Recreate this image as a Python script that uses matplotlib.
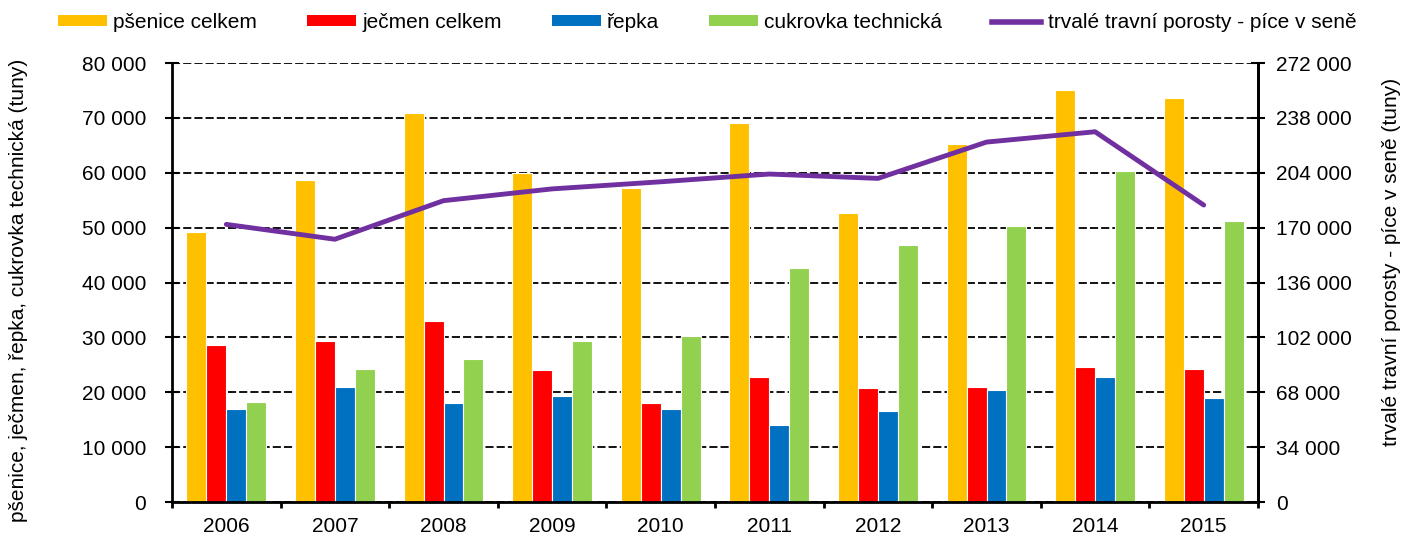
import numpy as np
import matplotlib
matplotlib.use("Agg")
import matplotlib.pyplot as plt
from matplotlib.ticker import FuncFormatter, FixedLocator
from matplotlib.patches import Patch
from matplotlib.lines import Line2D

plt.rcParams['font.family'] = ['Liberation Sans', 'DejaVu Sans']

years = ['2006', '2007', '2008', '2009', '2010', '2011', '2012', '2013', '2014', '2015']
psenice = [49200, 58700, 70900, 59900, 57300, 69000, 52600, 65300, 75100, 73600]
jecmen = [28600, 29300, 33000, 24000, 18000, 22700, 20700, 20900, 24600, 24300]
repka = [16900, 20900, 18000, 19400, 16900, 14100, 16600, 20500, 22700, 18900]
cukrovka = [18300, 24200, 26100, 29400, 30200, 42600, 46800, 50300, 60300, 51200]
ttp = [172000, 162800, 186700, 194000, 198400, 203200, 200500, 223000, 229400, 184000]

bar_series = [
    ('pšenice celkem', psenice, '#FFC000'),
    ('ječmen celkem', jecmen, '#FF0000'),
    ('řepka', repka, '#0070C0'),
    ('cukrovka technická', cukrovka, '#92D050'),
]
line_label = 'trvalé travní porosty - píce v seně'
line_color = '#7030A0'
fs = 15

fmt = FuncFormatter(lambda v, p: f"{v:,.0f}".replace(",", " "))

fig = plt.figure(figsize=(14.14, 5.35), dpi=100)
ax = fig.add_axes([172 / 1414, 33 / 535, (1258 - 172) / 1414, (502 - 63) / 535])

x = np.arange(len(years))
w = 0.184
for k, (name, vals, col) in enumerate(bar_series):
    ax.bar(x + (k - 1.5) * w, vals, width=w, color=col, edgecolor='white',
           linewidth=0.8, zorder=2)

ax.set_xlim(-0.5, len(years) - 0.5)
ax.set_ylim(0, 80000)
ax.set_yticks(np.arange(0, 80001, 10000))
ax.yaxis.set_major_formatter(fmt)
ax.set_xticks(x)
ax.set_xticklabels(years)
ax.xaxis.set_minor_locator(FixedLocator(np.arange(-0.5, len(years), 1.0)))
ax.tick_params(axis='x', which='major', length=0, pad=11, labelsize=fs)
ax.tick_params(axis='x', which='minor', length=4.5, width=2, direction='out')
ax.tick_params(axis='y', length=10, width=1.5, direction='inout', labelsize=fs, pad=13.5)
ax.set_axisbelow(True)
ax.yaxis.grid(True, color='black', linewidth=1.3, linestyle=(0, (4.5, 1.7)))
ax.spines['top'].set_visible(False)
for s in ['left', 'bottom', 'right']:
    ax.spines[s].set_linewidth(2)
ax.set_ylabel('pšenice, ječmen, řepka, cukrovka technická (tuny)', fontsize=fs)
ax.yaxis.set_label_coords(-0.133, 0.483)

ax2 = ax.twinx()
ax2.plot(x, ttp, color=line_color, linewidth=3.5, solid_capstyle='round', zorder=3)
ax2.set_ylim(0, 272000)
ax2.set_yticks(np.arange(0, 272001, 34000))
ax2.yaxis.set_major_formatter(fmt)
ax2.tick_params(axis='y', length=10, width=1.5, direction='inout', labelsize=fs, pad=8)
ax2.spines['top'].set_visible(False)
ax2.spines['right'].set_linewidth(2)
ax2.spines['left'].set_visible(False)
ax2.set_ylabel('trvalé travní porosty - píce v seně (tuny)', fontsize=fs)
ax2.yaxis.set_label_coords(1.114, 0.547)

handles = [Patch(facecolor=col, edgecolor='none', label=name) for name, _, col in bar_series]
handles.append(Line2D([0], [0], color=line_color, linewidth=4, label=line_label))
fig.legend(handles=handles, loc='upper center', bbox_to_anchor=(0.5, 1.003), ncol=5,
           frameon=False, fontsize=fs, handlelength=2.35, handleheight=0.4,
           handletextpad=0.3, columnspacing=2.4, borderaxespad=0.3)

fig.savefig('out.png', dpi=100)
